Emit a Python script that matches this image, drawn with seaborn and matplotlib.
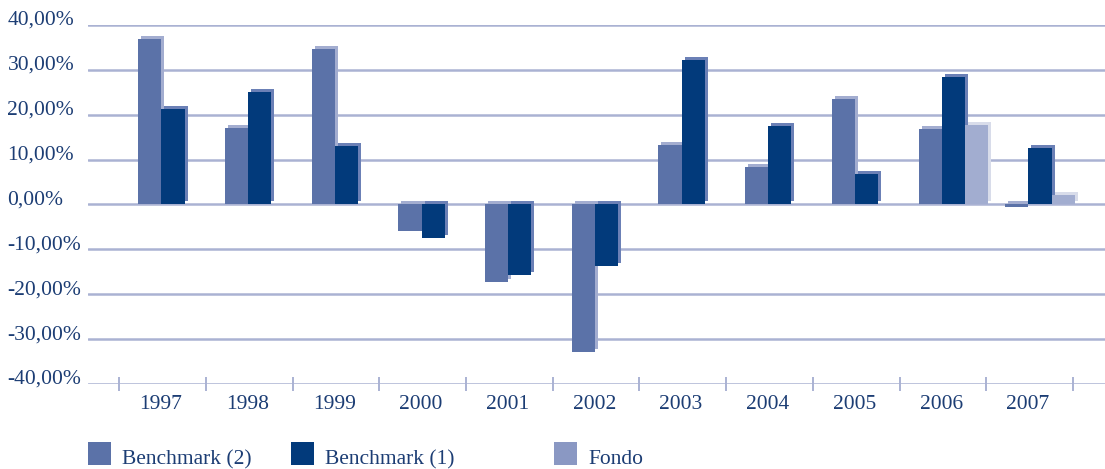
import numpy as np
import pandas as pd
import matplotlib
matplotlib.use("Agg")
import matplotlib.pyplot as plt
import matplotlib.transforms as mtransforms
from matplotlib.patches import Rectangle
import seaborn as sns

# dati (rendimenti annui in %)
anni = ["1997", "1998", "1999", "2000", "2001", "2002", "2003", "2004", "2005", "2006", "2007"]
benchmark_2 = [36.9, 17.0, 34.6, -6.0, -17.2, -32.8, 13.3, 8.4, 23.4, 16.9, -0.6]
benchmark_1 = [21.2, 25.0, 13.0, -7.5, -15.6, -13.6, 32.3, 17.6, 6.9, 28.5, 12.7]
fondo = [np.nan] * 9 + [17.8, 2.1]
serie = ["Benchmark (2)", "Benchmark (1)", "Fondo"]
y_ticks = [40, 30, 20, 10, 0, -10, -20, -30, -40]

colori = {"Benchmark (2)": "#5b72a8", "Benchmark (1)": "#023a7b", "Fondo": "#a2add0"}
ombre = {"Benchmark (2)": "#a3add0", "Benchmark (1)": "#6b80b6", "Fondo": "#d8dcea"}
colori_legenda = {"Benchmark (2)": "#5b72a8", "Benchmark (1)": "#023a7b", "Fondo": "#8a98c3"}
col_testo = "#1c3d74"
col_griglia = "#aab2d3"

df = pd.DataFrame({
    "anno": anni * 3,
    "serie": [serie[0]] * 11 + [serie[1]] * 11 + [serie[2]] * 11,
    "valore": benchmark_2 + benchmark_1 + fondo,
})

sns.set_style("white")
plt.rcParams["font.family"] = ["Liberation Serif", "DejaVu Serif"]

W, H = 1105, 469
fig = plt.figure(figsize=(W / 100, H / 100), dpi=100)
ax = fig.add_axes([88 / W, 1 - 384 / H, (W - 88) / W, (384 - 25) / H])

sns.barplot(data=df, x="anno", y="valore", hue="serie", order=anni, hue_order=serie,
            palette=colori, width=0.8, saturation=1, legend=False, ax=ax, zorder=3,
            linewidth=0, edgecolor="none")

# ombra "3D" dietro ogni barra
sposta = ax.transData + mtransforms.ScaledTranslation(0.03, 0.03, fig.dpi_scale_trans)
for nome, cont in zip(serie, ax.containers):
    for p in cont.patches:
        if np.isnan(p.get_height()):
            continue
        ax.add_patch(Rectangle(p.get_xy(), p.get_width(), p.get_height(),
                               facecolor=ombre[nome], edgecolor="none", linewidth=0,
                               transform=sposta, zorder=2))

ax.set_ylim(-40, 40)
ax.set_xlim(-0.98, 10.75)
ax.set_xlabel("")
ax.set_ylabel("")

# griglia orizzontale
ax.set_yticks(y_ticks)
ax.set_yticklabels([f"{v:.2f}%".replace(".", ",") for v in y_ticks])
for v in y_ticks:
    ax.axhline(v, color=col_griglia, lw=1.8, zorder=1)
ax.tick_params(axis="y", length=0, pad=58, labelsize=15.5, labelcolor=col_testo)
for lab in ax.get_yticklabels():
    lab.set_horizontalalignment("left")
    lab.set_verticalalignment("baseline")

# etichette anni e tacche tra le categorie
ax.set_xticks(np.arange(len(anni)) - 0.14, labels=anni)
ax.set_xticks(np.arange(len(anni) + 1) - 0.62, minor=True)
ax.tick_params(axis="x", which="major", length=0, pad=8, labelsize=15.5, labelcolor=col_testo)
ax.tick_params(axis="x", which="minor", direction="inout", length=10, width=1.4,
               color=col_griglia, bottom=True)

for s in ax.spines.values():
    s.set_visible(False)

# legenda in basso
for nome, x0 in zip(serie, [88, 291, 554]):
    fig.patches.append(Rectangle((x0 / W, (H - 465) / H), 23 / W, 23 / H,
                                 facecolor=colori_legenda[nome], edgecolor="none",
                                 transform=fig.transFigure, figure=fig))
    fig.text((x0 + 34) / W, (H - 464) / H, nome, fontsize=15.5, color=col_testo,
             va="baseline", ha="left")

fig.savefig("out.png", dpi=100)
